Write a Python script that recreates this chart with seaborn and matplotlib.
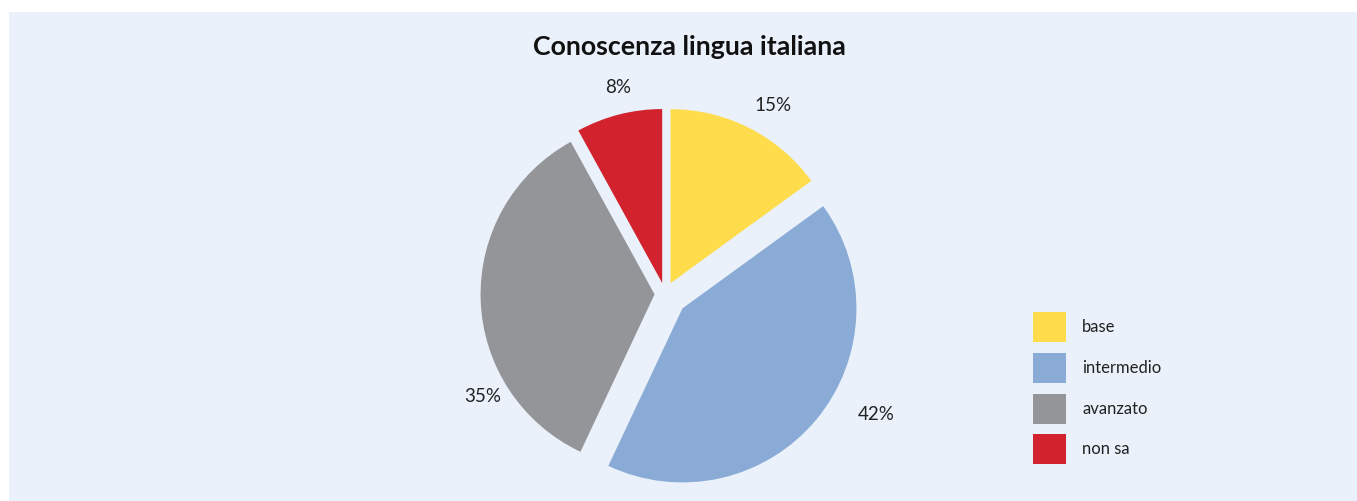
import numpy as np
import matplotlib
matplotlib.use("Agg")
import matplotlib.pyplot as plt
import seaborn as sns
from matplotlib.patches import Rectangle

# ---- data ----
categories = ["base", "intermedio", "avanzato", "non sa"]
values = [15, 42, 35, 8]
pct_labels = ["15%", "42%", "35%", "8%"]
title = "Conoscenza lingua italiana"

# ---- style ----
colors = ["#FEDC4C", "#89ABD5", "#949599", "#D2222D"]
explode = [0.07, 0.13, 0.06, 0.065]
# label placement (angle offset from wedge mid-angle in degrees, radial distance)
label_angle_shift = [-3, 11, 29, -1.7]
label_dist = [1.18, 1.27, 1.15, 1.15]

sns.set_theme(style="white")
plt.rcParams["font.family"] = ["Lato", "DejaVu Sans"]

W, H = 1357, 501
fig = plt.figure(figsize=(W / 100, H / 100), dpi=100, facecolor="white")

# background panel
fig.patches.append(Rectangle((9 / W, 0), 1 - 9 / W, 1 - 12 / H,
                             transform=fig.transFigure, facecolor="#EAF1FA",
                             edgecolor="none", zorder=-10))

# pie axes: center (665, 294) px from top, radius 174 px
R = 174.0
cx, cy = 665.0, H - 294.0
span = 1.45
ax = fig.add_axes([(cx - span * R) / W, (cy - span * R) / H,
                   2 * span * R / W, 2 * span * R / H])
ax.set_zorder(5)
ax.axis("off")
ax.patch.set_alpha(0)

wedges, _ = ax.pie(values, colors=colors, explode=explode, startangle=90,
                   counterclock=False, radius=1.0,
                   wedgeprops=dict(edgecolor="none", linewidth=0))
ax.set_xlim(-span, span)
ax.set_ylim(-span, span)
ax.set_aspect("equal")

for w, lab, sh, d in zip(wedges, pct_labels, label_angle_shift, label_dist):
    mid = np.deg2rad((w.theta1 + w.theta2) / 2)
    cxw, cyw = w.center
    ang = mid + np.deg2rad(sh)
    ax.text(cxw + d * np.cos(ang), cyw + d * np.sin(ang), lab,
            ha="center", va="center", fontsize=13.5, color="#222222")

fig.text(689 / W, 1 - 47 / H, title, ha="center", va="center",
         fontsize=19.3, fontweight="bold", color="#111111", zorder=10)

handles = [Rectangle((0, 0), 1, 1, facecolor=c, edgecolor="none") for c in colors]
leg = fig.legend(handles, categories, loc="upper left",
                 bbox_to_anchor=(1033 / W, 1 - 312 / H),
                 bbox_transform=fig.transFigure, frameon=False,
                 borderpad=0, borderaxespad=0, fontsize=12,
                 handlelength=1.95, handleheight=2.4, handletextpad=1.0,
                 labelspacing=0.64)
for t in leg.get_texts():
    t.set_color("#222222")

fig.savefig("out.png", dpi=100, facecolor="white")
